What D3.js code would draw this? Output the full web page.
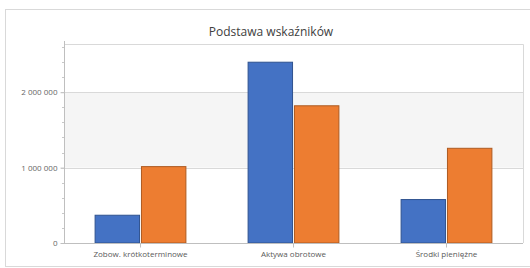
<!DOCTYPE html>
<html>
<head>
<meta charset="utf-8">
<script src="https://cdn.jsdelivr.net/npm/d3@7"></script>
<style>
  body { margin: 0; background: #fff; }
  svg { display: block; font-family: "Open Sans", "Noto Sans", sans-serif; }
</style>
</head>
<body>
<div id="chart"></div>
<script>
// chart values
const categories = ["Zobow. krótkoterminowe", "Aktywa obrotowe", "Środki pieniężne"];
const seriesNames = ["Seria 1", "Seria 2"];
const series1 = [375000, 2405000, 583000];
const series2 = [1020000, 1827000, 1263000];
const yTicks = [0, 1000000, 2000000];
const yMax = 2640000;
const title = "Podstawa wskaźników";

const width = 530, height = 268;
const margin = { top: 44, right: 7, bottom: 25, left: 64 };
const plotW = width - margin.left - margin.right;
const plotH = height - margin.top - margin.bottom;

const colors = ["#4472C4", "#ED7D31"];
const strokes = ["#2F528F", "#AE5A21"];

const svg = d3.select("#chart").append("svg")
  .attr("width", width)
  .attr("height", height);

// outer frame of the chart (clipped by the window on right/bottom)
svg.append("rect")
  .attr("x", 5.5).attr("y", 9.5)
  .attr("width", 540).attr("height", 257)
  .attr("fill", "#fff")
  .attr("stroke", "#d9d9d9");

svg.append("text")
  .attr("x", 271)
  .attr("y", 36)
  .attr("text-anchor", "middle")
  .style("font-size", "12px")
  .style("fill", "#404040")
  .text(title);

const g = svg.append("g")
  .attr("transform", "translate(" + margin.left + "," + margin.top + ")");

const x = d3.scaleBand()
  .domain(categories)
  .range([0, plotW])
  .paddingInner(0.4)
  .paddingOuter(0.2);

const x1 = d3.scaleBand()
  .domain(seriesNames)
  .range([0, x.bandwidth()])
  .paddingInner(0.02);

const y = d3.scaleLinear()
  .domain([0, yMax])
  .range([plotH, 0]);

// alternating bands between gridlines
const bandEdges = yTicks.concat([yMax]);
for (let i = 1; i < bandEdges.length - 1; i += 2) {
  g.append("rect")
    .attr("x", 0)
    .attr("y", y(bandEdges[i + 1]))
    .attr("width", plotW)
    .attr("height", y(bandEdges[i]) - y(bandEdges[i + 1]))
    .attr("fill", "#f5f5f5");
}

// plot border (top & right)
g.append("path")
  .attr("d", "M0,0.5H" + (plotW + 0.5) + "V" + plotH)
  .attr("fill", "none")
  .attr("stroke", "#d9d9d9");

// gridlines
g.selectAll(".grid")
  .data(yTicks.slice(1))
  .enter().append("line")
  .attr("x1", -3).attr("x2", plotW)
  .attr("y1", d => Math.round(y(d)) + 0.5)
  .attr("y2", d => Math.round(y(d)) + 0.5)
  .attr("stroke", "#d9d9d9");

// minor ticks
g.selectAll(".minor")
  .data(d3.range(200000, yMax, 200000).filter(v => v % 1000000 !== 0))
  .enter().append("line")
  .attr("x1", -2).attr("x2", 0)
  .attr("y1", d => Math.round(y(d)) + 0.5)
  .attr("y2", d => Math.round(y(d)) + 0.5)
  .attr("stroke", "#c8c8c8");

// y axis
const yAxis = g.append("g")
  .attr("transform", "translate(0.5,0)")
  .call(d3.axisLeft(y).tickValues(yTicks).tickSize(4).tickPadding(3)
    .tickFormat(d => d3.format(",")(d).replace(/,/g, " ")));
yAxis.select(".domain").attr("stroke", "#bfbfbf").attr("d", "M0,-3V" + plotH);
yAxis.selectAll(".tick line").attr("stroke", "#bfbfbf");
yAxis.selectAll("text")
  .style("font-size", "8px")
  .style("font-family", "'Open Sans', sans-serif")
  .attr("fill", "#666");

// bars
const groups = g.selectAll(".grp")
  .data(categories)
  .enter().append("g")
  .attr("transform", d => "translate(" + x(d) + ",0)");

const allSeries = [series1, series2];
groups.selectAll("rect")
  .data((d, i) => allSeries.map((s, k) => ({ k: k, v: s[i] })))
  .enter().append("rect")
  .attr("x", d => x1(seriesNames[d.k]) + 0.5)
  .attr("y", d => y(d.v) + 0.5)
  .attr("width", x1.bandwidth() - 1)
  .attr("height", d => plotH - y(d.v) - 0.5)
  .attr("fill", d => colors[d.k])
  .attr("stroke", d => strokes[d.k])
  .attr("stroke-width", 1);

// x axis
const xAxis = g.append("g")
  .attr("transform", "translate(0," + (Math.round(plotH) + 0.5) + ")")
  .call(d3.axisBottom(x).tickSize(4).tickPadding(4));
xAxis.select(".domain").attr("stroke", "#bfbfbf").attr("d", "M0,0H" + plotW);
xAxis.selectAll(".tick line").attr("stroke", "#bfbfbf");
xAxis.selectAll("text")
  .style("font-size", "8px")
  .style("font-family", "'Open Sans', sans-serif")
  .attr("fill", "#595959");
</script>
</body>
</html>
